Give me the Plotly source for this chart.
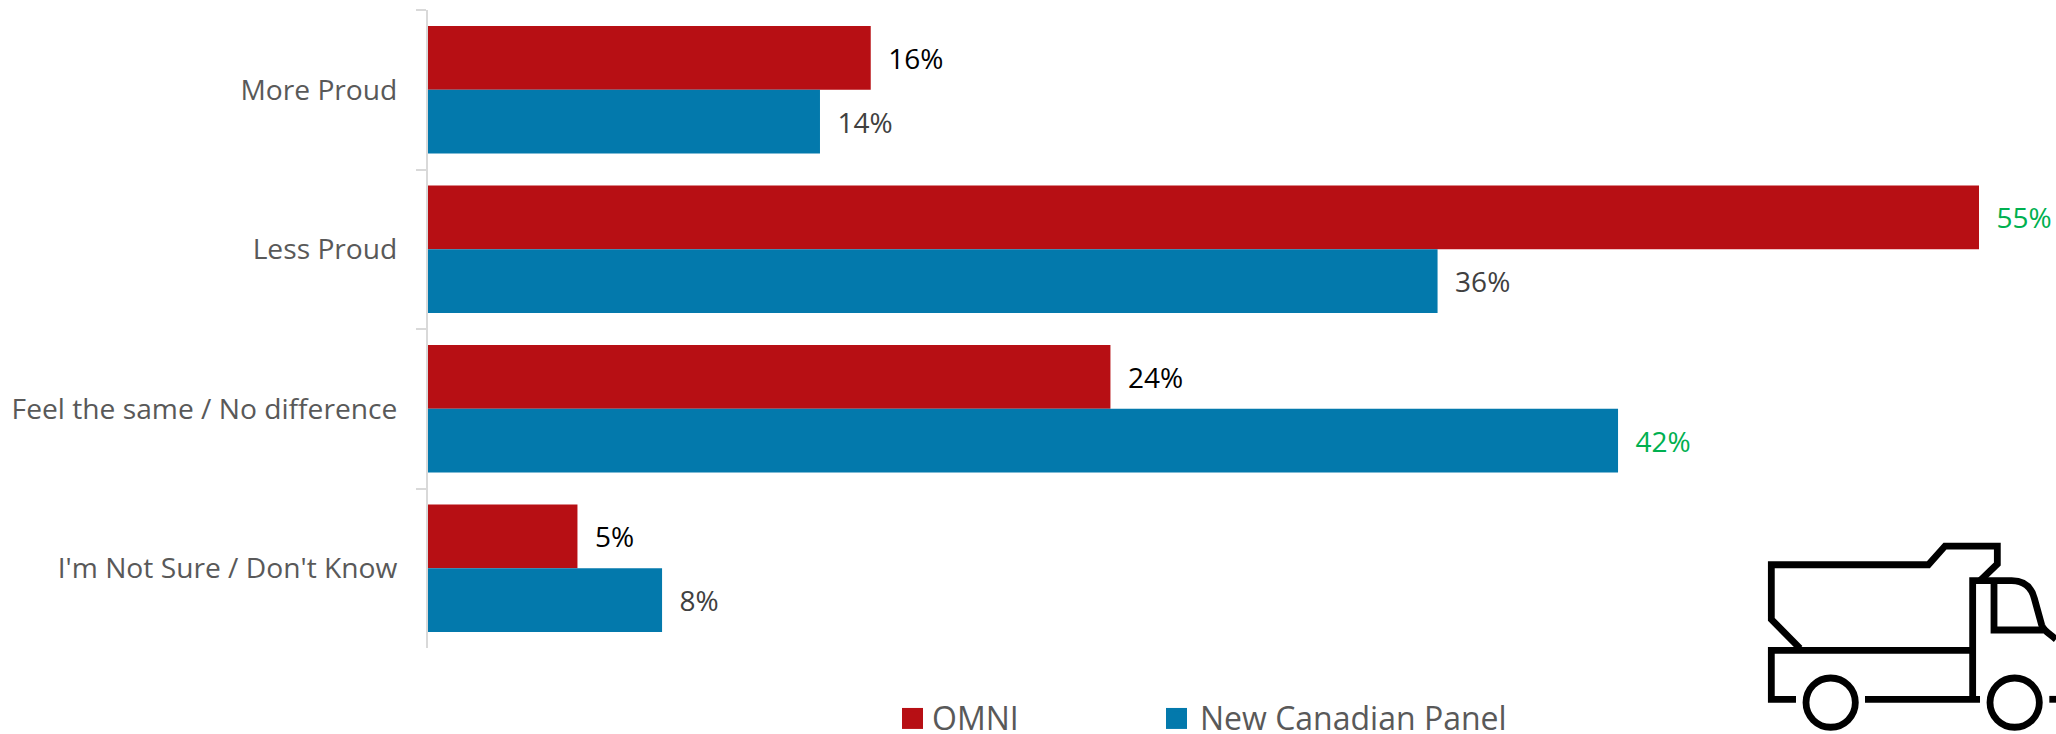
import plotly.graph_objects as go

categories = ["More Proud", "Less Proud", "Feel the same / No difference", "I'm Not Sure / Don't Know"]
omni_values = [15.7, 55.0, 24.2, 5.3]
panel_values = [13.9, 35.8, 42.2, 8.3]
omni_labels = ["16%", "55%", "24%", "5%"]
panel_labels = ["14%", "36%", "42%", "8%"]
omni_label_colors = ["#000000", "#00B050", "#000000", "#000000"]
panel_label_colors = ["#404040", "#404040", "#00B050", "#404040"]
OMNI_COLOR = "#B70F14"
PANEL_COLOR = "#0379AC"

W, H = 2056, 734
L, T, B = 428, 9.5, 86
PAD = "\u00a0\u00a0"

fig = go.Figure()
fig.add_bar(y=categories, x=omni_values, name="OMNI", orientation="h", marker_color=OMNI_COLOR, marker_line_width=0,
            text=[PAD + t for t in omni_labels], textposition="outside", cliponaxis=False, showlegend=True,
            textfont=dict(family="Open Sans", size=28, color=omni_label_colors))
fig.add_bar(y=categories, x=panel_values, name="New Canadian Panel", orientation="h", marker_color=PANEL_COLOR,
            marker_line_width=0,
            text=[PAD + t for t in panel_labels], textposition="outside", cliponaxis=False, showlegend=True,
            textfont=dict(family="Open Sans", size=28, color=panel_label_colors), legend="legend2")


def px(x):
    return (x - L) / (W - L)


def py(y):
    return 1 - (y - T) / (H - T - B)


def zx(x):
    return px(1700 + x / 3)


def zy(y):
    return py(520 + y / 3)


def pt(p):
    return f"{zx(p[0]):.5f},{zy(p[1]):.5f}"


def path(points):
    return "M " + " L ".join(pt(p) for p in points)


icon = [
    path([(300, 385), (214, 298), (214, 134), (685, 134), (735, 78), (892, 78), (892, 132), (840, 182)]),
    path([(288, 538), (214, 538), (214, 391), (818, 391)]),
    path([(495, 538), (840, 538)]),
    path([(818, 538), (818, 182), (935, 182)]) + f" C {pt((975, 182))} {pt((995, 205))} {pt((1003, 235))}"
    + f" L {pt((1025, 315))} C {pt((1030, 330))} {pt((1040, 335))} {pt((1068, 358))}",
    path([(882, 190), (882, 330), (1030, 330)]),
    path([(1048, 538), (1068, 538)]),
]
shapes = [dict(type="path", xref="paper", yref="paper", path=p,
               line=dict(color="#000000", width=6.8), layer="above") for p in icon]
for cx in (392, 944):
    shapes.append(dict(type="circle", xref="paper", yref="paper",
                       x0=zx(cx - 74), x1=zx(cx + 74), y0=zy(548 + 74), y1=zy(548 - 74),
                       line=dict(color="#000000", width=6.8)))
for x0, color in ((902, OMNI_COLOR), (1166, PANEL_COLOR)):
    shapes.append(dict(type="rect", xref="paper", yref="paper", x0=px(x0), x1=px(x0 + 21),
                       y0=py(729), y1=py(708), fillcolor=color, line=dict(width=0), layer="above"))

legend_font = dict(family="Open Sans", size=32, color="#595959")
fig.update_layout(
    width=W, height=H, margin=dict(l=L, r=0, t=T, b=B, autoexpand=False),
    paper_bgcolor="white", plot_bgcolor="white", showlegend=True,
    barmode="group", bargap=0.2, bargroupgap=0,
    xaxis=dict(range=[0, (W - L) / 28.2], visible=False, showgrid=False, zeroline=False),
    yaxis=dict(autorange="reversed", type="category", showgrid=False, showline=True, linecolor="#D9D9D9", linewidth=2,
               ticks="outside", ticklen=10, tickwidth=2, tickcolor="#D9D9D9", tickson="boundaries",
               ticklabelstandoff=23, tickfont=dict(family="Open Sans", size=28.2, color="#595959")),
    legend=dict(x=px(892), xanchor="left", y=py(718), yanchor="middle", font=legend_font,
                itemwidth=30, bgcolor="rgba(0,0,0,0)"),
    legend2=dict(x=px(1160), xanchor="left", y=py(718), yanchor="middle", font=legend_font,
                 itemwidth=30, bgcolor="rgba(0,0,0,0)"),
    shapes=shapes,
)
fig.write_html("out.html", config=dict(displayModeBar=False),
               post_script="document.body.style.margin='0';document.documentElement.style.overflow='hidden';")
